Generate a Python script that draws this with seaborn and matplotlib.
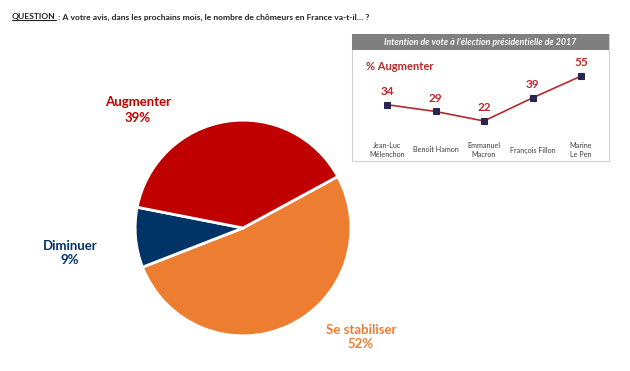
import matplotlib
matplotlib.use("Agg")
import matplotlib.pyplot as plt
import seaborn as sns
import pandas as pd
from matplotlib.patches import Rectangle
from matplotlib.lines import Line2D

# ---------------------------
# Datos
# ---------------------------
pie_labels = ["Se stabiliser", "Diminuer", "Augmenter"]
pie_values = [52, 9, 39]
pie_colors = ["#ED7D31", "#003366", "#C00000"]

candidats = ["Jean-Luc\nMélenchon", "Benoît Hamon", "Emmanuel\nMacron",
             "François Fillon", "Marine\nLe Pen"]
augmenter = [34, 29, 22, 39, 55]

titre = "A votre avis, dans les prochains mois, le nombre de chômeurs en France va-t-il… ?"
titre_encart = "Intention de vote à l’élection présidentielle de 2017"

sns.set_theme(style="white")
plt.rcParams["font.family"] = ["Lato", "DejaVu Sans"]

W, H = 630, 371
fig = plt.figure(figsize=(W / 100, H / 100), dpi=100)


def fx(px):
    return px / W


def fy(py):
    return 1 - py / H


# ---------------------------
# Titre
# ---------------------------
q = fig.text(fx(12), fy(17), "QUESTION", fontsize=6.1, fontweight="bold",
             color="#222222", va="center", ha="left")
fig.canvas.draw()
bb = q.get_window_extent().transformed(fig.transFigure.inverted())
fig.add_artist(Line2D([bb.x0, bb.x1], [bb.y0 + 0.002, bb.y0 + 0.002],
                      transform=fig.transFigure, color="#222222", lw=0.8))
fig.text(bb.x1, fy(17), " : " + titre, fontsize=6.1, fontweight="bold",
         color="#222222", va="center", ha="left")

# ---------------------------
# Camembert
# ---------------------------
cx, cy, r = 243, 228, 110
ax_pie = fig.add_axes([fx(cx - r), fy(cy + r), (2 * r) / W, (2 * r) / H])
ax_pie.pie(pie_values, colors=pie_colors, startangle=28.5, counterclock=False,
           wedgeprops=dict(edgecolor="white", linewidth=2))
ax_pie.set_xlim(-1.02, 1.02)
ax_pie.set_ylim(-1.02, 1.02)
ax_pie.set_aspect("equal")
ax_pie.axis("off")

label_pos = {"Augmenter": (138, 110), "Diminuer": (70, 253), "Se stabiliser": (361, 337)}
for lab, val, col in zip(pie_labels, pie_values, pie_colors):
    px, py = label_pos[lab]
    fig.text(fx(px), fy(py), f"{lab}\n{val}%", color=col, fontsize=9.5,
             fontweight="bold", ha="center", va="center", linespacing=1.3)

# ---------------------------
# Encart : intention de vote
# ---------------------------
bx0, bx1, by0, by1, hb = 352, 609, 34, 161, 50
fig.add_artist(Rectangle((fx(bx0), fy(by1)), fx(bx1 - bx0), (by1 - by0) / H,
                         transform=fig.transFigure, facecolor="white",
                         edgecolor="#D0D0D0", lw=0.8, zorder=-2))
fig.add_artist(Rectangle((fx(bx0), fy(hb)), fx(bx1 - bx0), (hb - by0) / H,
                         transform=fig.transFigure, facecolor="#7F7F7F",
                         edgecolor="none", zorder=-1))
fig.text(fx((bx0 + bx1) / 2), fy(42), titre_encart, color="white", fontsize=6.4,
         fontweight="bold", fontstyle="italic", ha="center", va="center", zorder=3)

ax_l = fig.add_axes([fx(bx0), fy(by1), fx(bx1 - bx0), (by1 - hb) / H])
ax_l.patch.set_alpha(0)
df = pd.DataFrame({"x": range(len(candidats)), "val": augmenter})
sns.lineplot(data=df, x="x", y="val", ax=ax_l, color="#B5282B", lw=1.2,
             marker="s", markersize=4.5, markerfacecolor="#262650",
             markeredgecolor="#262650")
px_per_x = 48.5
ax_l.set_xlim(-(387 - bx0) / px_per_x, 4 + (bx1 - 581) / px_per_x)
px_per_y = 1.36
ax_l.set_ylim(22 - (by1 - 121) / px_per_y, 22 + (121 - hb) / px_per_y)
ax_l.axis("off")

for i, v in enumerate(augmenter):
    ax_l.annotate(str(v), (i, v), xytext=(0, 9.5), textcoords="offset points",
                  ha="center", va="center", color="#B5282B", fontsize=8.5,
                  fontweight="bold")
    ax_l.text(i, 22 - (150 - 121) / px_per_y, candidats[i], ha="center",
              va="center", fontsize=5.2, color="#404040", linespacing=1.4)

fig.text(fx(366), fy(66), "% Augmenter", color="#B5282B", fontsize=8,
         fontweight="bold", ha="left", va="center")

fig.savefig("out.png", dpi=100)
